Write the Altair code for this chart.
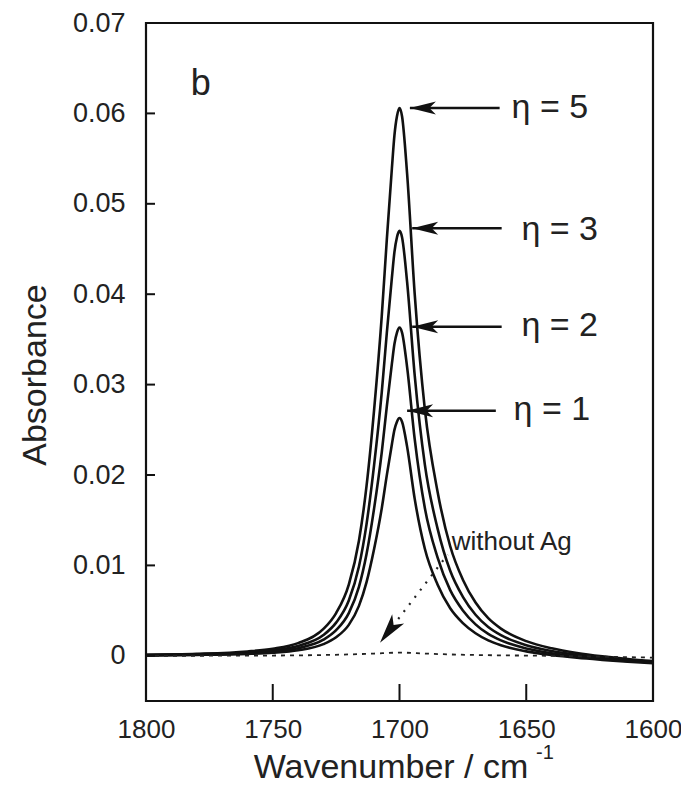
import altair as alt
import pandas as pd

# ---- data ----
wavenumber = [1800, 1780, 1760, 1750, 1740, 1730, 1725, 1720, 1716, 1713, 1710, 1707, 1705,
              1703, 1702, 1701, 1700, 1699, 1697, 1694, 1690, 1685, 1680, 1675, 1670, 1665,
              1660, 1650, 1640, 1630, 1620, 1610, 1600]
eta5 = [0.00012, 0.00022, 0.00048, 0.00078, 0.0014, 0.00297, 0.00473, 0.00788, 0.01273, 0.01879,
        0.02727, 0.03757, 0.04606, 0.05393, 0.05757, 0.05969, 0.0606,
        0.05969, 0.05333, 0.04, 0.02727, 0.01818, 0.01212, 0.00842, 0.00589, 0.00416, 0.00301,
        0.00162, 0.00083, 0.00031, -0.00006, -0.00035, -0.00058]
eta3 = [0.00009, 0.00017, 0.00037, 0.0006, 0.00109, 0.0023, 0.00367, 0.00611, 0.00987, 0.01457,
        0.02115, 0.02914, 0.03572, 0.04183, 0.04465, 0.0463, 0.047,
        0.0463, 0.04136, 0.03102, 0.02115, 0.0141, 0.0094, 0.00652, 0.00454, 0.00318, 0.00228,
        0.00117, 0.00053, 0.0001, -0.00021, -0.00046, -0.00068]
eta2 = [0.00007, 0.00013, 0.00029, 0.00046, 0.00084, 0.00178, 0.00283, 0.00472, 0.00762, 0.01125,
        0.01634, 0.02251, 0.02759, 0.03231, 0.03449, 0.03576, 0.0363,
        0.03576, 0.03194, 0.02396, 0.01634, 0.01089, 0.00726, 0.00502, 0.00348, 0.00242, 0.0017,
        0.00082, 0.00029, -0.00006, -0.00034, -0.00056, -0.00075]
eta1 = [0.00005, 0.0001, 0.00021, 0.00034, 0.00061, 0.00129, 0.00205, 0.00342, 0.00552, 0.00815,
        0.01184, 0.01631, 0.01999, 0.02341, 0.02499, 0.0259, 0.0263,
        0.0259, 0.02314, 0.01736, 0.01184, 0.00789, 0.00526, 0.00362, 0.00249, 0.0017, 0.00116,
        0.00049, 0.00008, -0.00022, -0.00045, -0.00065, -0.00082]

noag_w = [1800, 1760, 1740, 1720, 1710, 1700, 1690, 1680, 1660, 1640, 1620, 1600]
noag_a = [0.0, 0.00002, 0.00005, 0.00015, 0.00025, 0.00035, 0.00025, 0.00015, 0.00005, 0.0, -0.0001, -0.0002]

label_text = ["η = 5", "η = 3", "η = 2", "η = 1"]
label_w = [1655.8, 1651.9, 1651.9, 1655.0]
label_a = [0.0606, 0.0471, 0.0365, 0.0272]
arrow_tail_w = [1660.5, 1659.7, 1659.7, 1662.0]
arrow_tip_w = [1695.9, 1695.0, 1695.0, 1697.0]
arrow_a = [0.0606, 0.0473, 0.0364, 0.0271]

x_ticks = [1800, 1750, 1700, 1650, 1600]
y_ticks = [0, 0.01, 0.02, 0.03, 0.04, 0.05, 0.06, 0.07]
inner_x_ticks = [1750, 1700, 1650]
inner_y_ticks = [0, 0.01, 0.02, 0.03, 0.04, 0.05, 0.06]

# ---- frames ----
curves = pd.DataFrame({
    "w": wavenumber * 4,
    "A": eta5 + eta3 + eta2 + eta1,
    "s": ["5"] * len(wavenumber) + ["3"] * len(wavenumber) + ["2"] * len(wavenumber) + ["1"] * len(wavenumber),
})
noag = pd.DataFrame({"w": noag_w, "A": noag_a})
labels = pd.DataFrame({"w": label_w, "A": label_a, "t": label_text})
arrows = pd.DataFrame({"w": arrow_tail_w, "w2": arrow_tip_w, "A": arrow_a})
heads = pd.DataFrame({"w": arrow_tip_w, "A": arrow_a})
xt = pd.DataFrame({"w": inner_x_ticks})
yt = pd.DataFrame({"A": inner_y_ticks})

FONT = "Liberation Sans"
W, H = 507, 678

xs = alt.Scale(domain=[1600, 1800], reverse=True, nice=False, zero=False)
ys = alt.Scale(domain=[-0.005, 0.07], nice=False, zero=False)
xaxis = alt.Axis(title=None, values=x_ticks, ticks=False, domain=False, grid=False,
                 labelFontSize=26, labelFont=FONT, labelColor="#222", labelPadding=15,
                 labelFlush=False, format="d")
yaxis = alt.Axis(title=None, values=y_ticks, ticks=False, domain=False, grid=False,
                 labelFontSize=27, labelFont=FONT, labelColor="#222", labelPadding=21,
                 labelFlush=False, format=".2~f")

X = alt.X("w:Q", scale=xs, axis=xaxis)
Y = alt.Y("A:Q", scale=ys, axis=yaxis)

lines = alt.Chart(curves).mark_line(color="#111", strokeWidth=2.6, interpolate="monotone").encode(
    x=X, y=Y, detail="s:N")

dashed = alt.Chart(noag).mark_line(color="#222", strokeWidth=1.8, strokeDash=[4, 5],
                                   interpolate="monotone").encode(x=X, y=Y)

ytick_rules = alt.Chart(yt).mark_rule(color="#111", strokeWidth=2).encode(
    y=Y, x=alt.value(0), x2=alt.value(9))
xtick_rules = alt.Chart(xt).mark_rule(color="#111", strokeWidth=2).encode(
    x=X, y=alt.value(H), y2=alt.value(H - 17))

arrow_lines = alt.Chart(arrows).mark_rule(color="#111", strokeWidth=2.6).encode(
    x=X, x2="w2:Q", y=Y)

ARROW = "M 0 0 L 2 -0.5 L 1.5 0 L 2 0.5 Z"
arrow_heads = alt.Chart(heads).mark_point(shape=ARROW, filled=True, fill="#111", opacity=1,
                                          size=676, strokeWidth=0).encode(x=X, y=Y)

label_marks = alt.Chart(labels).mark_text(font=FONT, fontSize=34, align="left",
                                          baseline="middle", color="#222").encode(
    x=X, y=Y, text="t:N")

# dotted arrow for "without Ag"
noag_text_df = pd.DataFrame({"w": [1679.4], "A": [0.0126], "t": ["without Ag"]})
noag_text = alt.Chart(noag_text_df).mark_text(font=FONT, fontSize=26, align="left",
                                              baseline="middle", color="#222").encode(
    x=X, y=Y, text="t:N")
dot_df = pd.DataFrame({"w": [1681.0, 1700.5], "A": [0.0112, 0.00407]})
dot_line = alt.Chart(dot_df).mark_line(color="#222", strokeWidth=2.2, strokeDash=[2, 7]).encode(x=X, y=Y)
dot_head_df = pd.DataFrame({"w": [1707.7], "A": [0.00144]})
dot_head = alt.Chart(dot_head_df).mark_point(shape=ARROW, filled=True, fill="#111", opacity=1,
                                             size=900, strokeWidth=0, angle=307.3).encode(x=X, y=Y)

b_df = pd.DataFrame({"w": [1782.3], "A": [0.0632], "t": ["b"]})
b_text = alt.Chart(b_df).mark_text(font=FONT, fontSize=36, align="left", baseline="middle",
                                   color="#222").encode(x=X, y=Y, text="t:N")

one = pd.DataFrame({"t": ["Absorbance"]})
ytitle = alt.Chart(one).mark_text(font=FONT, fontSize=34, angle=270, align="center",
                                  baseline="middle", color="#222").encode(
    x=alt.value(-110), y=alt.value(352), text="t:N")
xt_df = pd.DataFrame({"t": ["Wavenumber / cm"]})
xtitle = alt.Chart(xt_df).mark_text(font=FONT, fontSize=34, align="center",
                                    baseline="alphabetic", color="#222").encode(
    x=alt.value(245), y=alt.value(H + 77), text="t:N")
sup_df = pd.DataFrame({"t": ["-1"]})
xsup = alt.Chart(sup_df).mark_text(font=FONT, fontSize=20, align="left",
                                   baseline="alphabetic", color="#222").encode(
    x=alt.value(390), y=alt.value(H + 58), text="t:N")

chart = alt.layer(
    lines, dashed, ytick_rules, xtick_rules, arrow_lines, arrow_heads, label_marks,
    noag_text, dot_line, dot_head, b_text, ytitle, xtitle, xsup
).properties(
    width=W, height=H,
    padding={"left": 138, "top": 15, "right": 28, "bottom": 84},
    autosize=alt.AutoSizeParams(type="none"),
    background="white",
).configure_view(stroke="#111", strokeWidth=2.2)

chart.save("out.html", embed_options={"renderer": "svg", "actions": False})
